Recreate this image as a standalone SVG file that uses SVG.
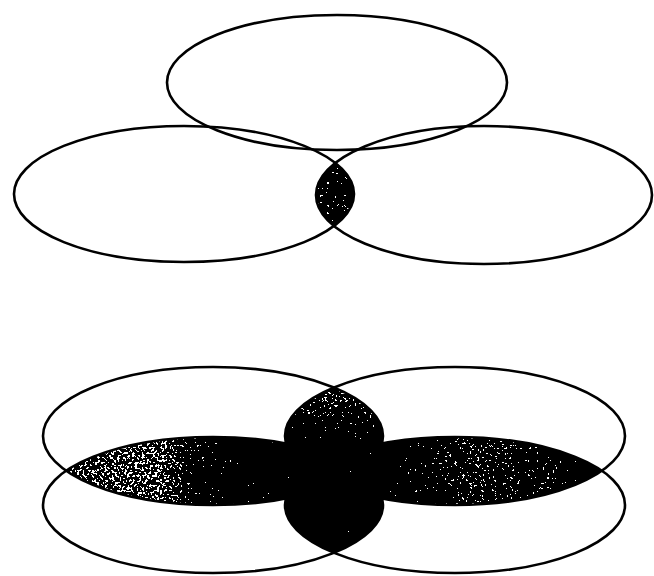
<svg xmlns="http://www.w3.org/2000/svg" width="654" height="576" viewBox="0 0 654 576">
<style>
.o{fill:none;stroke:#000;stroke-width:2.6}
.f{stroke:none}
.d{filter:url(#dither)}
</style>
<defs>
<filter id="dither" x="0" y="0" width="1" height="1" color-interpolation-filters="sRGB">
<feTurbulence type="fractalNoise" baseFrequency="0.4" numOctaves="2" seed="7" result="n"/>
<feColorMatrix in="n" type="matrix" values="1 0 0 0 0  1 0 0 0 0  1 0 0 0 0  0 0 0 0 1" result="g"/>
<feComposite in="SourceGraphic" in2="g" operator="arithmetic" k1="0" k2="1" k3="1" k4="-0.5" result="s"/>
<feComponentTransfer in="s" result="t">
<feFuncR type="discrete" tableValues="0 1"/>
<feFuncG type="discrete" tableValues="0 1"/>
<feFuncB type="discrete" tableValues="0 1"/>
</feComponentTransfer>
<feComposite in="t" in2="SourceGraphic" operator="in"/>
</filter>
<clipPath id="cL"><ellipse cx="184" cy="194" rx="170" ry="68"/></clipPath>
<clipPath id="cUL"><ellipse cx="213" cy="436" rx="170" ry="69"/></clipPath>
<clipPath id="cUR"><ellipse cx="455" cy="436" rx="170" ry="69"/></clipPath>
<clipPath id="cLL"><ellipse cx="213" cy="505" rx="170" ry="68"/></clipPath>
<linearGradient id="gBand" gradientUnits="userSpaceOnUse" x1="65" y1="0" x2="600" y2="0">
<stop offset="0" stop-color="#6a6a6a"/>
<stop offset="0.18" stop-color="#707070"/>
<stop offset="0.27" stop-color="#3a3a3a"/>
<stop offset="0.4" stop-color="#2a2a2a"/>
<stop offset="0.55" stop-color="#222"/>
<stop offset="0.64" stop-color="#3a3a3a"/>
<stop offset="0.76" stop-color="#585858"/>
<stop offset="0.9" stop-color="#4a4a4a"/>
<stop offset="1" stop-color="#333"/>
</linearGradient>
<linearGradient id="gV" gradientUnits="userSpaceOnUse" x1="0" y1="387" x2="0" y2="557">
<stop offset="0" stop-color="#6a6a6a"/>
<stop offset="0.2" stop-color="#4a4a4a"/>
<stop offset="0.35" stop-color="#2a2a2a"/>
<stop offset="0.7" stop-color="#262626"/>
<stop offset="1" stop-color="#3a3a3a"/>
</linearGradient>
</defs>
<rect width="654" height="576" fill="#fff"/>
<g id="top-figure">
<g id="top-lens" class="d"><ellipse class="f" cx="484" cy="195" rx="168" ry="69" fill="#4a4a4a" clip-path="url(#cL)"/></g>
<g id="top-ellipse"><ellipse class="o" cx="337" cy="82.5" rx="170" ry="67.5"/></g>
<g id="left-ellipse"><ellipse class="o" cx="184" cy="194" rx="170" ry="68"/></g>
<g id="right-ellipse"><ellipse class="o" cx="484" cy="195" rx="168" ry="69"/></g>
</g>
<g id="bottom-figure">
<g id="band-fill" class="d">
<ellipse class="f" cx="213" cy="505" rx="170" ry="68" fill="url(#gBand)" clip-path="url(#cUL)"/>
<ellipse class="f" cx="455" cy="505" rx="170" ry="68" fill="url(#gBand)" clip-path="url(#cUR)"/>
</g>
<g id="vertical-fill" class="d">
<ellipse class="f" cx="455" cy="436" rx="170" ry="69" fill="url(#gV)" clip-path="url(#cUL)"/>
<ellipse class="f" cx="455" cy="505" rx="170" ry="68" fill="url(#gV)" clip-path="url(#cLL)"/>
</g>
<g id="upper-left-ellipse"><ellipse class="o" cx="213" cy="436" rx="170" ry="69"/></g>
<g id="upper-right-ellipse"><ellipse class="o" cx="455" cy="436" rx="170" ry="69"/></g>
<g id="lower-left-ellipse"><ellipse class="o" cx="213" cy="505" rx="170" ry="68"/></g>
<g id="lower-right-ellipse"><ellipse class="o" cx="455" cy="505" rx="170" ry="68"/></g>
</g>
<g id="connectors"/>
</svg>
